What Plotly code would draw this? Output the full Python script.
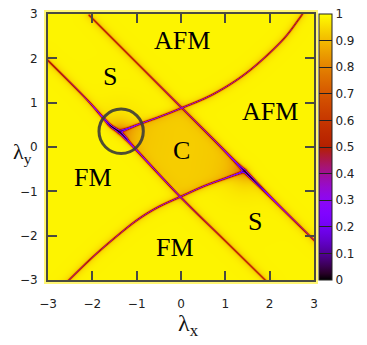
import numpy as np
import plotly.graph_objects as go

# ---------------- data ----------------
# phase-boundary curves (lambda_x, lambda_y) and the colour value on the curve
line_a_x = [-3.08, -2.2, -1.75, -1.6, -1.4, -1.25, -1.05, -0.02, 1.0, 2.0]
line_a_y = [2.03, 1.15, 0.65, 0.49, 0.35, 0.20, -0.02, -1.12, -2.12, -3.10]
line_a_v = [0.45, 0.38, 0.18, 0.02, 0.0, 0.05, 0.25, 0.35, 0.50, 0.55]

line_b_x = [-2.08, -1.0, 0.0, 0.8, 1.2, 1.42, 1.6, 1.78, 2.2, 3.08]
line_b_y = [2.98, 1.90, 0.90, 0.10, -0.31, -0.53, -0.71, -0.89, -1.31, -2.18]
line_b_v = [0.50, 0.50, 0.40, 0.33, 0.22, 0.0, 0.0, 0.08, 0.30, 0.45]

upper_x = [-1.4, -1.2, -0.92, -0.5, 0.0, 0.73, 1.49, 2.24, 2.65, 2.78]
upper_y = [0.36, 0.43, 0.54, 0.69, 0.89, 1.21, 1.70, 2.38, 2.90, 3.10]
upper_v = [0.05, 0.22, 0.30, 0.33, 0.35, 0.38, 0.40, 0.42, 0.45, 0.50]

lower_x = [1.42, 1.3, 1.0, 0.51, 0.0, -0.5, -0.92, -1.34, -1.98, -2.62, -2.72]
lower_y = [-0.53, -0.58, -0.69, -0.87, -1.10, -1.33, -1.58, -1.90, -2.45, -3.07, -3.17]
lower_v = [0.05, 0.22, 0.30, 0.33, 0.35, 0.36, 0.38, 0.40, 0.42, 0.45, 0.50]

# half-widths of the dark lines along each curve
line_a_w = [0.02, 0.02, 0.028, 0.035, 0.04, 0.035, 0.026, 0.022, 0.02, 0.02]
line_b_w = [0.02, 0.02, 0.022, 0.024, 0.028, 0.04, 0.035, 0.03, 0.024, 0.02]
upper_w = [0.035, 0.028, 0.024, 0.022, 0.022, 0.022, 0.02, 0.02, 0.02, 0.02]
lower_w = [0.035, 0.028, 0.024, 0.022, 0.022, 0.022, 0.022, 0.02, 0.02, 0.02, 0.02]

cusp_x = [-1.4, 1.42]
cusp_y = [0.36, -0.53]

level_outside = 0.985
level_c = 0.93

phase_labels = ["AFM", "S", "AFM", "C", "FM", "S", "FM"]
phase_label_x = [0.02, -1.6, 2.0, 0.02, -1.99, 1.66, -0.13]
phase_label_y = [2.41, 1.58, 0.79, -0.07, -0.68, -1.67, -2.26]

tick_vals = [-3, -2, -1, 0, 1, 2, 3]
cb_vals = [0, 0.1, 0.2, 0.3, 0.4, 0.5, 0.6, 0.7, 0.8, 0.9, 1]
cb_text = ["0", "0.1", "0.2", "0.3", "0.4", "0.5", "0.6", "0.7", "0.8", "0.9", "1"]

# ---------------- build the field ----------------
grid = np.linspace(-3.0, 3.0, 267)
X, Y = np.meshgrid(grid, grid)


def smooth(px, py, pv, pw, n=8):
    """Catmull-Rom rendering of a curve through the read points (like a spline line shape)."""
    P = np.column_stack([px, py]).astype(float)
    P = np.vstack([2 * P[0] - P[1], P, 2 * P[-1] - P[-2]])
    ox, oy, ov, ow = [], [], [], []
    for i in range(1, len(P) - 2):
        p0, p1, p2, p3 = P[i - 1], P[i], P[i + 1], P[i + 2]
        for t in np.linspace(0, 1, n, endpoint=False):
            t2, t3 = t * t, t * t * t
            q = 0.5 * ((2 * p1) + (-p0 + p2) * t + (2 * p0 - 5 * p1 + 4 * p2 - p3) * t2
                       + (-p0 + 3 * p1 - 3 * p2 + p3) * t3)
            ox.append(q[0]); oy.append(q[1])
            ov.append(pv[i - 1] + t * (pv[i] - pv[i - 1]))
            ow.append(pw[i - 1] + t * (pw[i] - pw[i - 1]))
    ox.append(px[-1]); oy.append(py[-1]); ov.append(pv[-1]); ow.append(pw[-1])
    return ox, oy, ov, ow


def polyline(px, py, pv, pw):
    px, py, pv, pw = smooth(px, py, pv, pw)
    dmin = np.full(X.shape, np.inf)
    vmin = np.zeros(X.shape)
    wmin = np.zeros(X.shape)
    for i in range(len(px) - 1):
        ax, ay, bx, by = px[i], py[i], px[i + 1], py[i + 1]
        dx, dy = bx - ax, by - ay
        L2 = dx * dx + dy * dy
        if L2 == 0:
            continue
        t = np.clip(((X - ax) * dx + (Y - ay) * dy) / L2, 0, 1)
        d = np.hypot(X - ax - t * dx, Y - ay - t * dy)
        v = pv[i] + t * (pv[i + 1] - pv[i])
        w = pw[i] + t * (pw[i + 1] - pw[i])
        m = d < dmin
        dmin = np.where(m, d, dmin)
        vmin = np.where(m, v, vmin)
        wmin = np.where(m, w, wmin)
    return dmin, vmin, wmin


def sig(s):
    return 1.0 / (1.0 + np.exp(-s))


sA = (X + Y + 1.05) / np.sqrt(2)
sB = (0.9 - X - Y) / np.sqrt(2)
ux, uy, _, _ = smooth(upper_x, upper_y, upper_v, upper_w)
sU = (np.interp(X, ux, uy) - Y) * 0.85
lx, ly, _, _ = smooth(lower_x, lower_y, lower_v, lower_w)
sL = (Y - np.interp(X, lx[::-1], ly[::-1])) * 0.85
inside_c = sig(np.minimum.reduce([sA, sB, sU, sL]) / 0.03)

z = level_outside + (level_c - level_outside) * inside_c

# glow around cusps (on the C / S side)
rl = np.hypot(X - cusp_x[0], Y - cusp_y[0])
rr = np.hypot(X - cusp_x[1], Y - cusp_y[1])
z = z - 0.16 * np.exp(-rl / 0.25) * sig(sA / 0.03)
z = z - 0.15 * np.exp(-rr / 0.25) * sig(sB / 0.03)

curves = [
    (line_a_x, line_a_y, line_a_v, line_a_w),
    (line_b_x, line_b_y, line_b_v, line_b_w),
    (upper_x, upper_y, upper_v, upper_w),
    (lower_x, lower_y, lower_v, lower_w),
]
fields = [polyline(*c) for c in curves]
for d, v, w in fields:
    z = z - 0.09 * np.exp(-d / 0.06)
for d, v, w in fields:
    g = np.exp(-(d / w) ** 2)
    z = np.where(v < z, z + (v - z) * g, z)
z = np.clip(z, 0, 1)

# gnuplot default palette (rgbformulae 7,5,15)
cs = []
for t in np.linspace(0, 1, 41):
    r = np.sqrt(t)
    gg = t ** 3
    b = max(0.0, np.sin(2 * np.pi * t))
    cs.append([float(t), f"rgb({int(round(255*r))},{int(round(255*gg))},{int(round(255*b))})"])

fig = go.Figure()
fig.add_trace(go.Heatmap(
    x=grid, y=grid, z=z, zmin=0, zmax=1, colorscale=cs, zsmooth="best",
    colorbar=dict(
        xref="container", x=319 / 367, xanchor="left", xpad=0,
        y=0.5, yanchor="middle",
        len=1, lenmode="fraction", ypad=0, thickness=13,
        outlinecolor="#222", outlinewidth=1,
        tickmode="array", tickvals=cb_vals, ticktext=cb_text,
        ticks="inside", ticklen=13, tickcolor="#222", tickwidth=1,
        tickfont=dict(family="DejaVu Sans", size=12, color="#222"),
    ),
    hoverinfo="skip",
))

axis_common = dict(
    range=[-3, 3], tickmode="array", tickvals=tick_vals,
    ticks="inside", ticklen=9, tickwidth=1.5, tickcolor="#4a4a40",
    showline=True, linecolor="#4a4a40", linewidth=2, mirror="ticks",
    showgrid=False, zeroline=False, automargin=False,
    tickfont=dict(family="DejaVu Sans", size=12, color="#222"),
)
fig.update_xaxes(**axis_common, ticklabelstandoff=12)
fig.update_yaxes(**axis_common, ticklabelstandoff=6)

annotations = []
for txt, ax_, ay_ in zip(phase_labels, phase_label_x, phase_label_y):
    annotations.append(dict(x=ax_, y=ay_, xref="x", yref="y", text=txt, showarrow=False,
                            font=dict(family="Liberation Serif", size=26, color="black")))
annotations.append(dict(x=(188 - 48) / 266, y=(279.5 - 341) / 265.5, xref="paper", yref="paper",
                        text="λ<sub>x</sub>", showarrow=False,
                        font=dict(family="Liberation Serif", size=24, color="#111")))
annotations.append(dict(x=(11 - 48) / 266, y=(279.5 - 153) / 265.5, xref="paper", yref="paper",
                        text="λ<sub>y</sub>", showarrow=False,
                        font=dict(family="Liberation Serif", size=22, color="#111")))

shapes = [
    dict(type="rect", xref="paper", yref="paper", x0=-0.015, x1=1.015, y0=-0.015, y1=1.015,
         fillcolor="rgba(255,238,0,0.55)", line=dict(width=0), layer="below"),
    dict(type="circle", xref="x", yref="y", x0=-1.85, x1=-0.85, y0=-0.145, y1=0.855,
         line=dict(color="rgba(60,60,55,0.9)", width=3)),
]

fig.update_layout(
    width=367, height=345,
    margin=dict(l=48, r=53, t=14, b=65),
    paper_bgcolor="white", plot_bgcolor="white",
    annotations=annotations, shapes=shapes,
    showlegend=False,
)
fig.write_html(
    "out.html",
    config={"responsive": False, "displayModeBar": False},
    post_script="document.body.style.margin='0';document.body.style.overflow='hidden';",
)
